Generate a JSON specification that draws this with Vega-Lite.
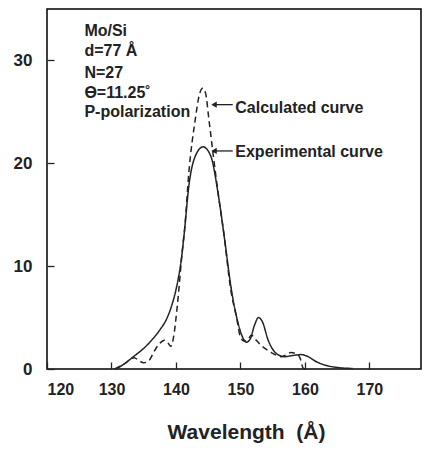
{
  "$schema": "https://vega.github.io/schema/vega-lite/v6.json",
  "width": 374,
  "height": 360,
  "autosize": "none",
  "padding": {"left": 47, "top": 9, "right": 1, "bottom": 81},
  "background": "white",
  "config": {
    "view": {"stroke": "black", "strokeWidth": 1.5},
    "font": "Liberation Sans"
  },
  "datasets": {
    "curves": [
      {"s": "exp", "w": 130.5, "r": 0},
      {"s": "exp", "w": 131.5, "r": 0.3},
      {"s": "exp", "w": 133.2, "r": 1.1},
      {"s": "exp", "w": 135.8, "r": 2.5},
      {"s": "exp", "w": 137.5, "r": 3.8},
      {"s": "exp", "w": 138.5, "r": 4.8},
      {"s": "exp", "w": 139.5, "r": 6.5},
      {"s": "exp", "w": 140.0, "r": 7.7},
      {"s": "exp", "w": 140.9, "r": 11.0},
      {"s": "exp", "w": 141.3, "r": 13.3},
      {"s": "exp", "w": 142.0, "r": 17.8},
      {"s": "exp", "w": 143.0, "r": 20.7},
      {"s": "exp", "w": 144.2, "r": 21.6},
      {"s": "exp", "w": 145.4, "r": 20.7},
      {"s": "exp", "w": 146.6, "r": 16.8},
      {"s": "exp", "w": 147.5, "r": 12.8},
      {"s": "exp", "w": 148.6, "r": 7.7},
      {"s": "exp", "w": 149.7, "r": 4.3},
      {"s": "exp", "w": 150.4, "r": 3.0},
      {"s": "exp", "w": 150.9, "r": 2.6},
      {"s": "exp", "w": 151.5, "r": 2.9},
      {"s": "exp", "w": 152.2, "r": 4.3},
      {"s": "exp", "w": 152.8, "r": 5.0},
      {"s": "exp", "w": 153.4, "r": 4.6},
      {"s": "exp", "w": 154.3, "r": 2.8},
      {"s": "exp", "w": 155.8, "r": 1.4},
      {"s": "exp", "w": 156.9, "r": 1.2},
      {"s": "exp", "w": 158.0, "r": 1.3},
      {"s": "exp", "w": 159.4, "r": 1.4},
      {"s": "exp", "w": 160.5, "r": 1.2},
      {"s": "exp", "w": 161.5, "r": 0.8},
      {"s": "exp", "w": 163.0, "r": 0.4},
      {"s": "exp", "w": 165.0, "r": 0.15},
      {"s": "exp", "w": 167.4, "r": 0.05},
      {"s": "calc", "w": 130.5, "r": 0},
      {"s": "calc", "w": 132.0, "r": 0.5},
      {"s": "calc", "w": 133.5, "r": 1.1},
      {"s": "calc", "w": 134.3, "r": 0.8},
      {"s": "calc", "w": 135.0, "r": 0.6},
      {"s": "calc", "w": 135.8, "r": 0.8},
      {"s": "calc", "w": 136.6, "r": 1.7},
      {"s": "calc", "w": 137.5, "r": 2.5},
      {"s": "calc", "w": 138.2, "r": 2.8},
      {"s": "calc", "w": 138.8, "r": 2.5},
      {"s": "calc", "w": 139.2, "r": 2.2},
      {"s": "calc", "w": 139.6, "r": 3.0},
      {"s": "calc", "w": 140.2, "r": 6.1},
      {"s": "calc", "w": 141.0, "r": 11.6},
      {"s": "calc", "w": 141.4, "r": 14.0},
      {"s": "calc", "w": 142.0, "r": 19.1},
      {"s": "calc", "w": 143.0, "r": 24.3},
      {"s": "calc", "w": 143.6, "r": 26.6},
      {"s": "calc", "w": 144.15, "r": 27.3},
      {"s": "calc", "w": 144.6, "r": 26.8},
      {"s": "calc", "w": 145.1, "r": 24.3},
      {"s": "calc", "w": 145.8, "r": 20.7},
      {"s": "calc", "w": 146.6, "r": 16.8},
      {"s": "calc", "w": 147.4, "r": 13.3},
      {"s": "calc", "w": 148.5, "r": 7.7},
      {"s": "calc", "w": 149.4, "r": 5.0},
      {"s": "calc", "w": 150.0, "r": 3.1},
      {"s": "calc", "w": 150.6, "r": 2.7},
      {"s": "calc", "w": 151.2, "r": 2.9},
      {"s": "calc", "w": 151.7, "r": 3.3},
      {"s": "calc", "w": 152.3, "r": 2.9},
      {"s": "calc", "w": 153.2, "r": 2.3},
      {"s": "calc", "w": 154.8, "r": 1.6},
      {"s": "calc", "w": 156.3, "r": 1.2},
      {"s": "calc", "w": 157.2, "r": 1.4},
      {"s": "calc", "w": 157.8, "r": 1.6},
      {"s": "calc", "w": 158.9, "r": 1.4},
      {"s": "calc", "w": 159.4, "r": 0.8},
      {"s": "calc", "w": 159.7, "r": 0.1},
      {"s": "calc", "w": 160.0, "r": 0}
    ],
    "info": [
      {"t": "Mo/Si", "w": 125.8, "r": 32.9},
      {"t": "d=77 Å", "w": 125.8, "r": 30.9},
      {"t": "N=27", "w": 125.8, "r": 28.8},
      {"t": "ϴ=11.25˚", "w": 125.8, "r": 26.8},
      {"t": "P-polarization", "w": 125.8, "r": 25.0},
      {"t": "Calculated curve", "w": 149.2, "r": 25.4},
      {"t": "Experimental curve", "w": 149.2, "r": 21.1}
    ],
    "arrows": [
      {"w": 145.9, "w2": 148.8, "r": 25.7},
      {"w": 145.9, "w2": 148.8, "r": 21.2}
    ]
  },
  "layer": [
    {
      "data": {"name": "curves"},
      "mark": {"type": "line", "interpolate": "monotone", "strokeWidth": 1.5, "color": "#222"},
      "encoding": {
        "x": {
          "field": "w", "type": "quantitative",
          "scale": {"domain": [120, 178], "nice": false},
          "axis": {
            "values": [120, 130, 140, 150, 160, 170],
            "title": "Wavelength\u00a0\u00a0(Å)",
            "titleFont": "Liberation Sans", "titleFontSize": 21, "titleFontWeight": "bold",
            "titleColor": "#222", "titlePadding": 24, "titleX": 199,
            "labelFontSize": 16, "labelFontWeight": "bold", "labelColor": "#222",
            "tickSize": -7, "labelPadding": 19, "tickColor": "#222", "tickWidth": 1.3,
            "domain": false, "grid": false
          }
        },
        "y": {
          "field": "r", "type": "quantitative",
          "scale": {"domain": [0, 35], "nice": false},
          "axis": {
            "values": [0, 10, 20, 30],
            "title": null,
            "labelFontSize": 17, "labelFontWeight": "bold", "labelColor": "#222",
            "tickSize": -7, "labelPadding": 22, "tickColor": "#222", "tickWidth": 1.3,
            "domain": false, "grid": false
          }
        },
        "detail": {"field": "s"},
        "strokeDash": {
          "field": "s", "type": "nominal",
          "scale": {"domain": ["exp", "calc"], "range": [[1, 0], [6, 4]]},
          "legend": null
        }
      }
    },
    {
      "data": {"name": "arrows"},
      "mark": {"type": "rule", "strokeWidth": 1.3, "color": "#222"},
      "encoding": {
        "x": {"field": "w", "type": "quantitative"},
        "x2": {"field": "w2"},
        "y": {"field": "r", "type": "quantitative"}
      }
    },
    {
      "data": {"name": "arrows"},
      "mark": {"type": "point", "shape": "triangle-left", "filled": true, "size": 40, "color": "#222", "opacity": 1},
      "encoding": {
        "x": {"field": "w", "type": "quantitative"},
        "y": {"field": "r", "type": "quantitative"}
      }
    },
    {
      "data": {"name": "info"},
      "mark": {"type": "text", "align": "left", "baseline": "middle", "fontSize": 16, "fontWeight": "bold", "color": "#222"},
      "encoding": {
        "x": {"field": "w", "type": "quantitative"},
        "y": {"field": "r", "type": "quantitative"},
        "text": {"field": "t"}
      }
    }
  ]
}
